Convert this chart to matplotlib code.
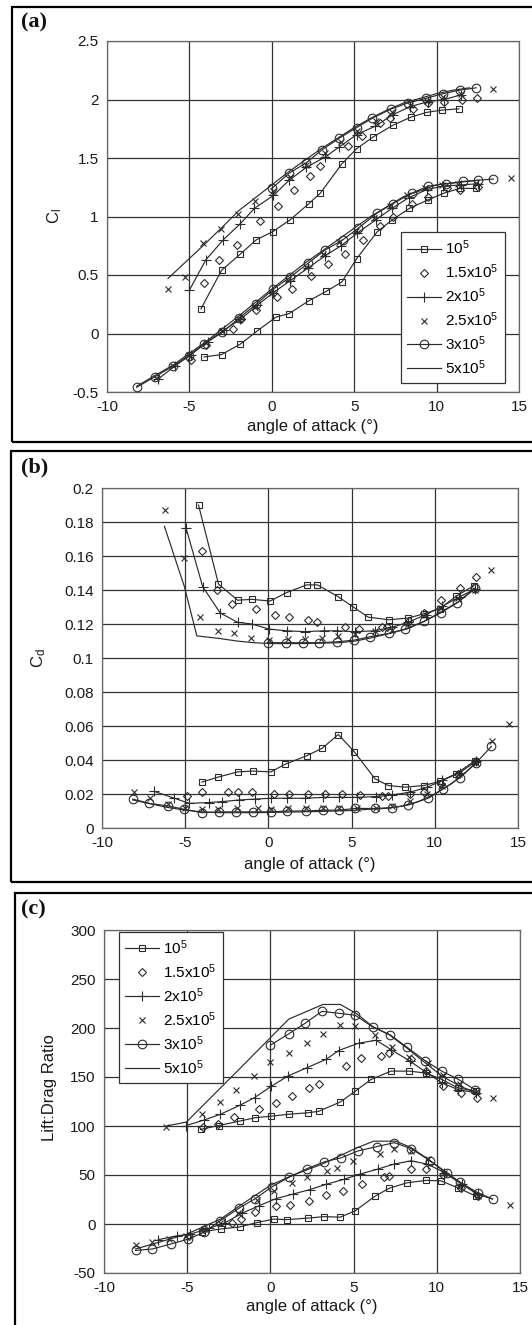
import matplotlib
matplotlib.use('Agg')
import matplotlib.pyplot as plt
from matplotlib.patches import Rectangle
import numpy as np

plt.rcParams['font.family'] = ['Liberation Sans', 'DejaVu Sans']
plt.rcParams['mathtext.default'] = 'regular'

W, H = 532, 1325
INK = '#2b2b2b'

# ---------------------------------------------------------------- data
# Reynolds numbers (legend)
re_labels = ['10$^5$', '1.5x10$^5$', '2x10$^5$', '2.5x10$^5$', '3x10$^5$', '5x10$^5$']

alpha_ticks = [-10, -5, 0, 5, 10, 15]
alpha_tick_labels = ['-10', '-5', '0', '5', '10', '15']
cl_ticks = [-0.5, 0, 0.5, 1, 1.5, 2, 2.5]
cl_tick_labels = ['-0.5', '0', '0.5', '1', '1.5', '2', '2.5']
cd_ticks = [0, 0.02, 0.04, 0.06, 0.08, 0.1, 0.12, 0.14, 0.16, 0.18, 0.2]
cd_tick_labels = ['0', '0.02', '0.04', '0.06', '0.08', '0.1', '0.12', '0.14', '0.16', '0.18', '0.2']
ld_ticks = [-50, 0, 50, 100, 150, 200, 250, 300]
ld_tick_labels = ['-50', '0', '50', '100', '150', '200', '250', '300']

# (a) lift coefficient, lower group of curves (alpha, Cl)
cl_lo_1e5 = [(-4.1, -0.20), (-3.05, -0.18), (-1.9, -0.09), (-0.9, 0.02), (0.25, 0.14), (1.05, 0.17),
             (2.25, 0.28), (3.3, 0.36), (4.25, 0.44), (5.15, 0.64), (6.4, 0.87), (7.3, 0.97),
             (8.35, 1.07), (9.45, 1.14), (10.45, 1.20), (11.4, 1.24), (12.4, 1.24)]
cl_lo_15e5 = [(-4.9, -0.23), (-4.0, -0.10), (-2.35, 0.04), (-1.85, 0.12), (-0.95, 0.20), (0.3, 0.31),
              (1.2, 0.38), (2.35, 0.49), (3.4, 0.59), (4.45, 0.68), (5.55, 0.80), (6.55, 0.92),
              (7.35, 1.00), (8.5, 1.11), (9.45, 1.17), (10.65, 1.24), (11.45, 1.23), (12.5, 1.25)]
cl_lo_2e5 = [(-6.9, -0.39), (-5.9, -0.28), (-4.9, -0.18), (-3.9, -0.07), (-2.9, 0.03), (-1.9, 0.12),
             (-0.9, 0.24), (0.1, 0.35), (1.1, 0.45), (2.2, 0.56), (3.2, 0.66), (4.2, 0.75), (5.2, 0.86),
             (6.3, 0.97), (7.3, 1.07), (8.3, 1.16), (9.4, 1.23), (10.4, 1.26), (11.5, 1.27), (12.5, 1.28)]
cl_lo_25e5 = [(-7.0, -0.38), (-6.0, -0.28), (-5.0, -0.18), (-4.0, -0.08), (-3.0, 0.02), (-2.0, 0.12),
              (-1.0, 0.23), (0.0, 0.35), (1.0, 0.46), (2.1, 0.57), (3.1, 0.68), (4.1, 0.78), (5.1, 0.88),
              (6.2, 0.99), (7.2, 1.09), (8.2, 1.18), (9.3, 1.24), (10.3, 1.27), (11.3, 1.28), (12.4, 1.29),
              (14.5, 1.33)]
cl_lo_3e5 = [(-8.2, -0.46), (-7.1, -0.37), (-6.0, -0.28), (-5.05, -0.19), (-4.1, -0.09), (-3.0, 0.01),
             (-2.0, 0.13), (-0.95, 0.25), (0.1, 0.38), (1.1, 0.48), (2.2, 0.60), (3.2, 0.71), (4.3, 0.80),
             (5.25, 0.90), (6.4, 1.03), (7.35, 1.11), (8.5, 1.20), (9.5, 1.26), (10.55, 1.28), (11.6, 1.30),
             (12.5, 1.31), (13.45, 1.32)]
cl_lo_5e5 = [(-8.2, -0.45), (-6.0, -0.27), (-4.0, -0.07), (-2.0, 0.15), (0.0, 0.38), (2.0, 0.60),
             (4.0, 0.80), (6.0, 1.00), (8.0, 1.17), (10.0, 1.27), (12.5, 1.31)]

# (a) lift coefficient, upper group of curves
cl_up_1e5 = [(-4.3, 0.21), (-3.05, 0.54), (-1.9, 0.68), (-0.95, 0.80), (0.05, 0.87), (1.1, 0.97),
             (2.25, 1.11), (2.95, 1.20), (4.25, 1.45), (5.15, 1.58), (6.15, 1.68), (7.35, 1.78),
             (8.45, 1.85), (9.4, 1.89), (10.35, 1.91), (11.35, 1.92)]
cl_up_15e5 = [(-4.1, 0.43), (-3.2, 0.63), (-2.1, 0.76), (-0.7, 0.96), (0.35, 1.09), (1.35, 1.23),
              (2.3, 1.35), (2.95, 1.43), (4.6, 1.60), (5.45, 1.69), (6.55, 1.80), (7.15, 1.84),
              (8.55, 1.92), (9.45, 1.97), (10.45, 1.98), (11.55, 2.00), (12.45, 2.01)]
cl_up_2e5 = [(-5.0, 0.37), (-4.0, 0.63), (-2.95, 0.80), (-1.9, 0.94), (-1.05, 1.07), (0.1, 1.18),
             (1.05, 1.31), (2.1, 1.42), (3.25, 1.51), (4.05, 1.59), (5.15, 1.70), (6.25, 1.77),
             (7.35, 1.87), (8.4, 1.94), (9.45, 1.98), (10.45, 2.00), (11.5, 2.04)]
cl_up_25e5 = [(-6.3, 0.38), (-5.25, 0.48), (-4.2, 0.77), (-3.1, 0.89), (-2.05, 1.02), (-1.0, 1.13),
              (0.1, 1.22), (1.1, 1.34), (2.1, 1.44), (3.2, 1.54), (4.2, 1.64), (5.2, 1.73), (6.3, 1.82),
              (7.3, 1.89), (8.4, 1.95), (9.4, 1.99), (10.4, 2.02), (11.5, 2.05), (13.4, 2.09)]
cl_up_3e5 = [(0.0, 1.24), (1.05, 1.37), (2.1, 1.46), (3.05, 1.57), (4.1, 1.67), (5.15, 1.76),
             (6.1, 1.84), (7.25, 1.92), (8.25, 1.97), (9.35, 2.01), (10.4, 2.05), (11.4, 2.08), (12.4, 2.10)]
cl_up_5e5 = [(-6.3, 0.47), (-4.1, 0.76), (-3.0, 0.91), (-2.0, 1.05), (-1.0, 1.16), (0.0, 1.27),
             (1.0, 1.38), (2.0, 1.48), (3.0, 1.58), (4.0, 1.67), (5.0, 1.76), (6.0, 1.84), (7.0, 1.91),
             (8.0, 1.97), (9.0, 2.01), (10.0, 2.05), (11.0, 2.08), (12.0, 2.10)]

# (b) drag coefficient, lower group
cd_lo_1e5 = [(-4.0, 0.027), (-3.0, 0.030), (-1.85, 0.033), (-0.9, 0.0335), (0.15, 0.033), (1.0, 0.0375),
             (2.3, 0.0425), (3.25, 0.047), (4.2, 0.055), (5.15, 0.045), (6.4, 0.029), (7.2, 0.025),
             (8.2, 0.024), (9.35, 0.025), (10.3, 0.0275), (11.3, 0.032), (12.4, 0.0395)]
cd_lo_15e5 = [(-4.9, 0.019), (-4.0, 0.021), (-2.4, 0.021), (-1.8, 0.021), (-1.0, 0.021), (0.35, 0.020),
              (1.25, 0.020), (2.35, 0.020), (3.4, 0.020), (4.4, 0.020), (5.5, 0.0195), (6.8, 0.019),
              (7.2, 0.019), (8.5, 0.020), (9.35, 0.021), (10.35, 0.026), (11.4, 0.032), (12.45, 0.0395)]
cd_lo_2e5 = [(-6.85, 0.0215), (-5.65, 0.0175), (-4.75, 0.0145), (-3.55, 0.015), (-2.8, 0.0155),
             (-1.75, 0.0165), (-0.8, 0.017), (0.15, 0.0175), (1.1, 0.0175), (2.2, 0.0175), (3.3, 0.018),
             (4.25, 0.018), (5.35, 0.018), (6.45, 0.0185), (7.45, 0.0195), (8.5, 0.021), (9.55, 0.024),
             (10.45, 0.028), (11.5, 0.0325), (12.5, 0.0395)]
cd_lo_25e5 = [(-8.1, 0.021), (-7.1, 0.0175), (-6.05, 0.014), (-5.0, 0.012), (-4.0, 0.011), (-3.0, 0.011),
              (-1.9, 0.0115), (-0.65, 0.012), (0.15, 0.011), (1.15, 0.0115), (2.25, 0.0115), (3.3, 0.012),
              (4.25, 0.012), (5.35, 0.0115), (6.45, 0.012), (7.45, 0.013), (8.5, 0.016), (9.55, 0.020),
              (10.45, 0.025), (11.45, 0.0315), (12.45, 0.0385), (13.45, 0.051), (14.45, 0.061)]
cd_lo_3e5 = [(-8.15, 0.017), (-7.15, 0.0145), (-6.05, 0.013), (-5.05, 0.011), (-4.0, 0.009),
             (-2.95, 0.0095), (-1.95, 0.0095), (-0.95, 0.0095), (0.15, 0.0095), (1.1, 0.010), (2.25, 0.010),
             (3.3, 0.0105), (4.25, 0.0105), (5.2, 0.0115), (6.4, 0.0115), (7.45, 0.012), (8.4, 0.0135),
             (9.6, 0.0175), (10.5, 0.023), (11.5, 0.0295), (12.45, 0.038), (13.4, 0.048)]
cd_lo_5e5 = [(-8.15, 0.0165), (-7.0, 0.014), (-6.0, 0.012), (-5.0, 0.0105), (-4.0, 0.0095), (-3.0, 0.009),
             (-1.0, 0.009), (1.0, 0.0093), (3.0, 0.0097), (5.0, 0.0103), (6.0, 0.011), (7.0, 0.0115),
             (8.0, 0.0128), (9.0, 0.0155), (10.0, 0.020), (11.0, 0.026), (12.0, 0.034), (12.5, 0.039)]

# (b) drag coefficient, upper group
cd_up_1e5 = [(-4.2, 0.190), (-3.0, 0.1435), (-1.85, 0.134), (-1.0, 0.1345), (0.1, 0.1335), (1.1, 0.1385),
             (2.3, 0.143), (2.95, 0.143), (4.2, 0.136), (5.1, 0.130), (6.0, 0.124), (7.25, 0.1225),
             (8.4, 0.1235), (9.35, 0.126), (10.3, 0.129), (11.3, 0.1365), (12.35, 0.1425)]
cd_up_15e5 = [(-4.0, 0.163), (-3.1, 0.140), (-2.2, 0.132), (-0.75, 0.129), (0.4, 0.1255), (1.25, 0.124),
              (2.35, 0.1225), (2.95, 0.121), (4.6, 0.118), (5.45, 0.117), (6.8, 0.118), (7.15, 0.118),
              (8.45, 0.1215), (9.35, 0.1265), (10.35, 0.134), (11.5, 0.141), (12.45, 0.1475)]
cd_up_2e5 = [(-4.95, 0.1765), (-3.95, 0.142), (-2.9, 0.1265), (-1.85, 0.121), (-1.0, 0.120), (0.05, 0.117),
             (1.1, 0.116), (2.2, 0.1155), (3.35, 0.116), (4.15, 0.116), (5.2, 0.1155), (6.4, 0.116),
             (7.4, 0.118), (8.4, 0.121), (9.45, 0.1255), (10.45, 0.1305), (11.5, 0.136), (12.4, 0.1405)]
cd_up_25e5 = [(-6.2, 0.187), (-5.1, 0.159), (-4.1, 0.124), (-3.05, 0.116), (-2.05, 0.1145), (-1.05, 0.1115),
              (0.05, 0.1105), (1.15, 0.111), (2.2, 0.111), (3.2, 0.1115), (4.2, 0.113), (5.2, 0.114),
              (6.4, 0.116), (7.4, 0.1165), (8.4, 0.120), (9.45, 0.1255), (10.35, 0.1295), (11.4, 0.1355),
              (12.4, 0.140), (13.35, 0.152)]
cd_up_3e5 = [(0.0, 0.109), (1.05, 0.109), (2.1, 0.109), (3.05, 0.109), (4.1, 0.1095), (5.15, 0.1105),
             (6.1, 0.1125), (7.25, 0.1145), (8.2, 0.117), (9.35, 0.1215), (10.35, 0.1265), (11.35, 0.1325),
             (12.4, 0.141)]
cd_up_5e5 = [(-6.25, 0.1775), (-5.05, 0.142), (-4.3, 0.113), (-2.95, 0.1115), (-1.9, 0.110), (-0.9, 0.109),
             (0.15, 0.1085), (2.2, 0.1085), (4.25, 0.109), (5.25, 0.110), (6.25, 0.112), (7.3, 0.1145),
             (8.3, 0.117), (9.35, 0.1215), (10.35, 0.127), (11.4, 0.133), (12.4, 0.1405)]

# (c) lift:drag ratio, lower group
ld_lo_1e5 = [(-4.1, -8), (-2.95, -5), (-1.85, -3), (-0.8, 1.5), (0.2, 5), (1.0, 4.5), (2.25, 6), (3.2, 7.5),
             (4.2, 7), (5.1, 13.5), (6.3, 28.5), (7.15, 36.5), (8.2, 42), (9.35, 44.5), (10.25, 44),
             (11.25, 37), (12.35, 28.5)]
ld_lo_15e5 = [(-4.9, -12), (-4.0, -5), (-2.3, 1.5), (-1.75, 5), (-0.9, 12), (0.35, 18.5), (1.2, 19.5),
              (2.3, 23.5), (3.35, 29.5), (4.35, 34), (5.5, 40.5), (6.8, 48), (7.1, 49), (8.45, 56),
              (9.35, 56), (10.35, 49.5), (11.45, 37), (12.45, 28.5)]
ld_lo_2e5 = [(-6.75, -16), (-5.6, -12), (-4.85, -10.5), (-3.7, -4.5), (-2.7, 1.5), (-1.7, 11), (-0.7, 18.5),
             (0.35, 26), (1.35, 30.5), (2.35, 35), (3.35, 40.5), (4.4, 45.5), (5.4, 51), (6.45, 56),
             (7.4, 61), (8.45, 64.5), (9.45, 61), (10.45, 52.5), (11.5, 40.5), (12.5, 30.5)]
ld_lo_25e5 = [(-8.1, -21.5), (-7.1, -18), (-6.1, -15.5), (-5.1, -12), (-4.0, -5), (-3.0, 1.5), (-1.95, 11),
              (-0.8, 24.5), (0.2, 34), (1.3, 41.5), (2.2, 47.5), (3.4, 54), (4.0, 57.5), (4.95, 64.5),
              (6.6, 71), (7.4, 77), (8.45, 74), (9.5, 66), (10.45, 52.5), (11.4, 39), (12.5, 28.5),
              (14.4, 19.5)]
ld_lo_3e5 = [(-8.1, -27), (-7.1, -25.5), (-6.0, -20.5), (-4.95, -15.5), (-4.0, -8.5), (-3.0, 3.5),
             (-1.9, 16), (-0.9, 26), (0.1, 38), (1.1, 47.5), (2.2, 56.5), (3.25, 63.5), (4.25, 67.5),
             (5.25, 74.5), (6.4, 79), (7.45, 83), (8.45, 77), (9.6, 64.5), (10.6, 52.5), (11.4, 42.5),
             (12.45, 32), (13.35, 25.5)]
ld_lo_5e5 = [(-8.1, -25.5), (-5.05, -10.5), (-3.0, 5), (-1.85, 18.5), (0.0, 39.5), (1.3, 49.5),
             (3.1, 61), (5.1, 77), (6.2, 84.5), (7.55, 84.5), (8.45, 78), (9.5, 66), (10.5, 52.5),
             (11.4, 42.5), (12.4, 30.5), (13.35, 25.5)]

# (c) lift:drag ratio, upper group
ld_up_1e5 = [(-4.2, 96.5), (-3.1, 100.5), (-1.85, 105), (-0.9, 108.5), (0.05, 110), (1.1, 112),
             (2.25, 113.5), (2.9, 115), (4.2, 124.5), (5.1, 135.5), (6.05, 147.5), (7.25, 156), (8.35, 156),
             (9.35, 154), (10.3, 147.5), (11.25, 139), (12.35, 135.5)]
ld_up_15e5 = [(-4.05, 98.5), (-3.15, 102.5), (-2.2, 109), (-0.7, 117), (0.35, 123), (1.3, 130.5),
              (2.3, 138.5), (2.9, 142.5), (4.55, 161), (5.45, 169.5), (6.65, 171), (7.1, 174), (8.45, 168),
              (9.35, 156), (10.35, 140.5), (11.45, 134), (12.4, 129)]
ld_up_2e5 = [(-5.05, 100.5), (-4.0, 106), (-3.0, 112), (-1.85, 121), (-0.95, 129), (0.05, 140.5),
             (1.05, 151), (2.2, 159.5), (3.35, 168), (4.1, 177), (5.3, 184.5), (6.35, 187.5), (7.25, 178),
             (8.4, 166), (9.35, 155), (10.3, 144), (11.3, 137), (12.35, 134)]
ld_up_25e5 = [(-6.25, 99), (-4.1, 112.5), (-3.05, 124.5), (-2.05, 136.5), (-1.0, 151.5), (0.0, 165.5),
              (1.1, 175), (2.2, 184.5), (3.15, 194), (4.2, 203.5), (5.1, 202.5), (6.3, 193), (7.3, 181),
              (8.35, 170), (9.5, 164.5), (10.4, 152.5), (11.4, 142.5), (12.4, 135.5), (13.35, 129)]
ld_up_3e5 = [(0.0, 182.5), (1.1, 194), (2.1, 205), (3.1, 217), (4.1, 215), (5.1, 213), (6.15, 201),
             (7.2, 193), (8.2, 180.5), (9.3, 166.5), (10.3, 156), (11.3, 147.5), (12.3, 137)]
ld_up_5e5 = [(-6.25, 100), (-5.05, 104), (-1.9, 157.5), (0.05, 191), (1.1, 209), (3.15, 224), (4.2, 224),
             (5.15, 215), (6.15, 201.5), (7.15, 193), (8.2, 179.5), (9.3, 164.5), (10.3, 151), (11.4, 140.5),
             (12.4, 134)]

# ---------------------------------------------------------------- style per Reynolds number
re_markers = ['s', 'D', '+', 'x', 'o', 'None']
re_lines = ['-', 'None', '-', 'None', '-', '-']
re_msize = [4.6, 4.4, 7.0, 4.0, 6.2, 0]


def px_rect(l, t, r, b):
    # pixel box -> figure fraction
    return [l / W, 1 - b / H, (r - l) / W, (b - t) / H]


def draw_panel(ax, lo, up, yticks, ylabels, ylim):
    for i in range(6):
        for grp, lab in ((lo, re_labels[i]), (up, None)):
            pts = np.array(grp[i])
            ax.plot(pts[:, 0], pts[:, 1], color=INK, lw=0.85, ls=re_lines[i],
                    marker=re_markers[i], ms=re_msize[i], mfc='none', mec=INK, mew=0.8,
                    label=lab, clip_on=False, zorder=3)
    ax.set_xlim(-10, 15)
    ax.set_ylim(*ylim)
    ax.set_xticks(alpha_ticks)
    ax.set_xticklabels(alpha_tick_labels)
    ax.set_yticks(yticks)
    ax.set_yticklabels(ylabels)
    ax.grid(True, color='#333333', lw=0.9)
    ax.set_axisbelow(True)
    ax.tick_params(length=0, pad=6, labelsize=11, colors='#1a1a1a')
    for s in ax.spines.values():
        s.set_color('#666666')
        s.set_linewidth(0.9)
    ax.set_xlabel('angle of attack (°)', fontsize=12, color='#1a1a1a')


fig = plt.figure(figsize=(W / 100, H / 100), dpi=100)

# panel border boxes
for (l, t, r, b) in [(12, 6.5, 534, 442), (11, 450.5, 534, 882), (15, 893, 534, 1330)]:
    fig.patches.append(Rectangle((l / W, 1 - b / H), (r - l) / W, (b - t) / H,
                                 transform=fig.transFigure, fill=False, ec='black', lw=1.6))

ax_a = fig.add_axes(px_rect(107, 41, 519, 392))
draw_panel(ax_a, [cl_lo_1e5, cl_lo_15e5, cl_lo_2e5, cl_lo_25e5, cl_lo_3e5, cl_lo_5e5],
           [cl_up_1e5, cl_up_15e5, cl_up_2e5, cl_up_25e5, cl_up_3e5, cl_up_5e5],
           cl_ticks, cl_tick_labels, (-0.5, 2.5))
ax_a.set_ylabel('C$_l$', fontsize=12, color='#1a1a1a')
ax_a.yaxis.set_label_coords(-0.105, 0.5)
ax_a.xaxis.set_label_coords(0.5, -0.077)

ax_b = fig.add_axes(px_rect(102, 488, 518, 828))
draw_panel(ax_b, [cd_lo_1e5, cd_lo_15e5, cd_lo_2e5, cd_lo_25e5, cd_lo_3e5, cd_lo_5e5],
           [cd_up_1e5, cd_up_15e5, cd_up_2e5, cd_up_25e5, cd_up_3e5, cd_up_5e5],
           cd_ticks, cd_tick_labels, (0, 0.2))
ax_b.set_ylabel('C$_d$', fontsize=12, color='#1a1a1a')
ax_b.yaxis.set_label_coords(-0.13, 0.5)
ax_b.xaxis.set_label_coords(0.5, -0.085)

ax_c = fig.add_axes(px_rect(104, 930, 520, 1273))
draw_panel(ax_c, [ld_lo_1e5, ld_lo_15e5, ld_lo_2e5, ld_lo_25e5, ld_lo_3e5, ld_lo_5e5],
           [ld_up_1e5, ld_up_15e5, ld_up_2e5, ld_up_25e5, ld_up_3e5, ld_up_5e5],
           ld_ticks, ld_tick_labels, (-50, 300))
ax_c.set_ylabel('Lift:Drag Ratio', fontsize=12, color='#1a1a1a')
ax_c.yaxis.set_label_coords(-0.112, 0.54)
ax_c.xaxis.set_label_coords(0.5, -0.077)

leg_kw = dict(fontsize=11, frameon=True, fancybox=False, framealpha=1, edgecolor='#333333',
              handlelength=2.2, handletextpad=0.3, labelspacing=0.35, borderpad=0.4,
              borderaxespad=0)
leg = ax_a.legend(loc='lower right', bbox_to_anchor=(0.966, 0.026), **leg_kw)
leg.get_frame().set_linewidth(0.9)
leg = ax_c.legend(loc='upper left', bbox_to_anchor=(0.036, 0.994), **leg_kw)
leg.get_frame().set_linewidth(0.9)

for lbl, y in (('(a)', 12), ('(b)', 457), ('(c)', 899)):
    fig.text(21 / W, 1 - y / H, lbl, ha='left', va='top', fontsize=16, fontweight='bold',
             family='Liberation Serif', color='#111111')

fig.savefig('out.png', dpi=100)
